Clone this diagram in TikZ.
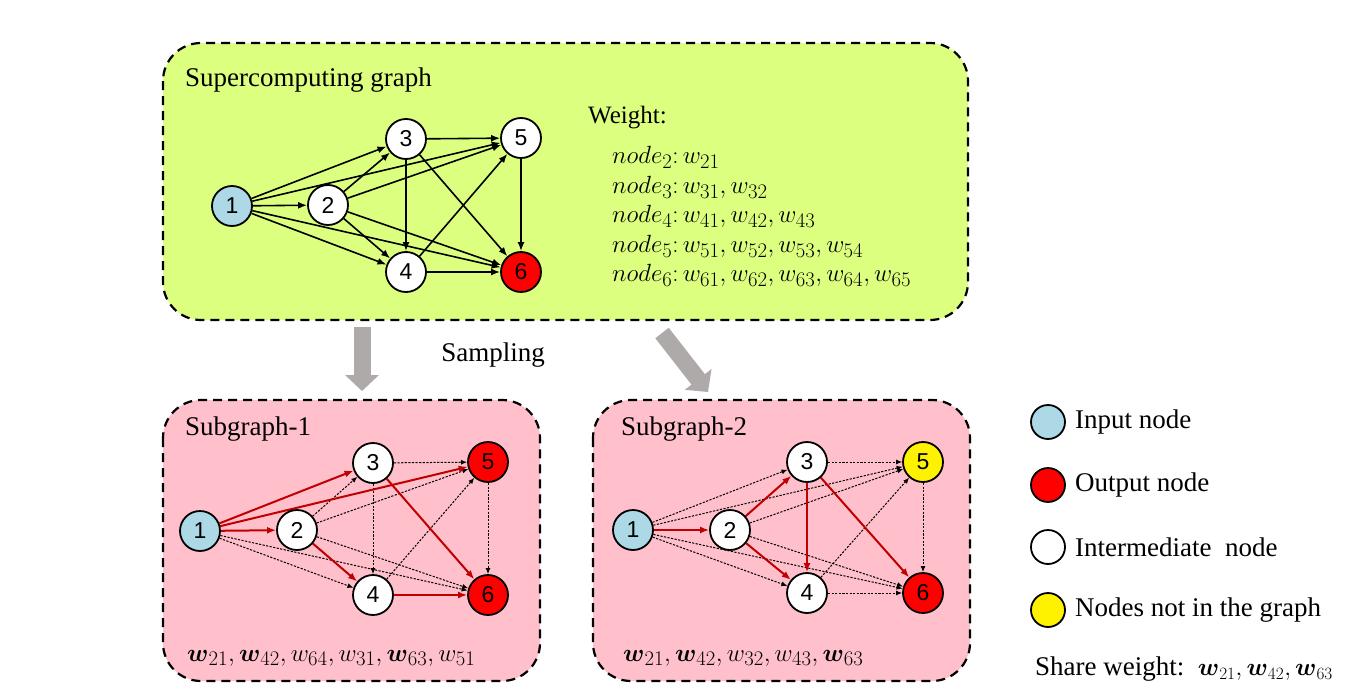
\documentclass[tikz,border=0pt]{standalone}
\usepackage{fontspec}
\usepackage{amsmath}
\setmainfont{Liberation Serif}
\newfontfamily\numfont{Liberation Sans}
\usetikzlibrary{arrows.meta}
\definecolor{boxgreen}{RGB}{221,255,128}
\definecolor{boxpink}{RGB}{255,192,203}
\definecolor{inblue}{RGB}{173,216,230}
\definecolor{darkred}{RGB}{192,0,0}
\definecolor{arrowgray}{RGB}{174,170,170}
\pgfdeclarelayer{bg}
\pgfdeclarelayer{edges}
\pgfsetlayers{bg,edges,main}
\begin{document}
\begin{tikzpicture}[x=1pt,y=-1pt,
  gnode/.style={circle,draw,line width=1.8pt,minimum size=40pt,inner sep=0pt,font=\numfont\fontsize{23}{23}\selectfont,fill=white},
  innode/.style={gnode,fill=inblue},
  outnode/.style={gnode,fill=red},
  absnode/.style={gnode,fill=yellow},
  legnode/.style={gnode,minimum size=34pt},
  bigbox/.style={draw,line width=2.2pt,dash pattern=on 9pt off 6pt,rounded corners=38pt},
  blk/.style={-{Latex[length=9pt,width=7pt]},line width=1.6pt},
  redge/.style={-{Latex[length=9pt,width=7pt]},line width=2pt,draw=darkred},
  dedge/.style={-{Latex[length=6pt,width=5pt]},line width=1pt,dash pattern=on 2.2pt off 1.4pt},
  samp/.style={line width=17pt,draw=arrowgray,-{Triangle[length=16pt,width=33pt]}},
  txt/.style={font=\fontsize{27}{30}\selectfont,inner sep=0pt},
  mtxt/.style={font=\fontsize{28}{30}\selectfont,inner sep=0pt}
]
\path[use as bounding box] (0,0) rectangle (1366,696);

% ---------- boxes ----------
\begin{pgfonlayer}{bg}
\path[bigbox,fill=boxgreen] (163,43) rectangle (968,320);
\path[bigbox,fill=boxpink] (163,400) rectangle (540,681);
\path[bigbox,fill=boxpink] (593,400) rectangle (970,681);
\end{pgfonlayer}

% ---------- supercomputing graph ----------
\node[txt,anchor=west] (ttl) at (185,80) {Supercomputing graph};
\node[innode] (t1) at (232,206) {1};
\node[gnode] (t2) at (328,205) {2};
\node[gnode] (t3) at (406,139) {3};
\node[gnode] (t5) at (521,138) {5};
\node[gnode] (t4) at (406,272) {4};
\node[outnode] (t6) at (521,272) {6};
\begin{pgfonlayer}{edges}
\foreach \a/\b in {1/2,1/3,1/4,1/5,1/6,2/3,2/4,2/5,2/6,3/4,3/5,3/6,4/5,4/6,5/6}
  \draw[blk] (t\a) -- (t\b);
\end{pgfonlayer}

\node[txt,anchor=west,font=\fontsize{25}{28}\selectfont] (wt) at (588,118) {Weight:};
\node[mtxt,anchor=west] (w2) at (612,157) {$node_2{:}\,w_{21}$};
\node[mtxt,anchor=west] (w3) at (612,187) {$node_3{:}\,w_{31}, w_{32}$};
\node[mtxt,anchor=west] (w4) at (612,216) {$node_4{:}\,w_{41}, w_{42}, w_{43}$};
\node[mtxt,anchor=west] (w5) at (612,246) {$node_5{:}\,w_{51}, w_{52}, w_{53}, w_{54}$};
\node[mtxt,anchor=west] (w6) at (612,275) {$node_6{:}\,w_{61}, w_{62}, w_{63}, w_{64}, w_{65}$};

% ---------- sampling arrows ----------
\coordinate (s1a) at (362,327);
\coordinate (s1b) at (362,391);
\coordinate (s2a) at (662,333);
\coordinate (s2b) at (708,392);
\draw[samp] (s1a) -- (s1b);
\draw[samp] (s2a) -- (s2b);
\node[txt] (smp) at (493,355) {Sampling};

% ---------- subgraph 1 ----------
\node[txt,anchor=west] (st1) at (185,429) {Subgraph-1};
\node[innode] (a1) at (200,531) {1};
\node[gnode] (a2) at (297,530) {2};
\node[gnode] (a3) at (373,463) {3};
\node[outnode] (a5) at (488,462) {5};
\node[gnode] (a4) at (373,595) {4};
\node[outnode] (a6) at (488,595) {6};
\begin{pgfonlayer}{edges}
\foreach \a/\b in {1/4,1/6,2/3,2/5,2/6,3/4,3/5,4/5,5/6}
  \draw[dedge] (a\a) -- (a\b);
\foreach \a/\b in {1/3,1/5,1/2,2/4,3/6,4/6}
  \draw[redge] (a\a) -- (a\b);
\end{pgfonlayer}
\node[mtxt,anchor=west] (sw1) at (187,658) {$\boldsymbol{w}_{21}, \boldsymbol{w}_{42}, w_{64}, w_{31}, \boldsymbol{w}_{63}, w_{51}$};

% ---------- subgraph 2 ----------
\node[txt,anchor=west] (st2) at (621,429) {Subgraph-2};
\node[innode] (b1) at (633,530) {1};
\node[gnode] (b2) at (730,530) {2};
\node[gnode] (b3) at (807,462) {3};
\node[absnode] (b5) at (923,462) {5};
\node[gnode] (b4) at (807,593) {4};
\node[outnode] (b6) at (923,593) {6};
\begin{pgfonlayer}{edges}
\foreach \a/\b in {1/3,1/4,1/5,1/6,2/5,2/6,3/5,4/5,4/6,5/6}
  \draw[dedge] (b\a) -- (b\b);
\foreach \a/\b in {1/2,2/3,2/4,3/4,3/6}
  \draw[redge] (b\a) -- (b\b);
\end{pgfonlayer}
\node[mtxt,anchor=west] (sw2) at (623,658) {$\boldsymbol{w}_{21}, \boldsymbol{w}_{42}, w_{32}, w_{43}, \boldsymbol{w}_{63}$};

% ---------- legend ----------
\node[legnode,fill=inblue] (l1) at (1048,422) {};
\node[legnode,fill=red] (l2) at (1048,485) {};
\node[legnode] (l3) at (1048,547) {};
\node[legnode,fill=yellow] (l4) at (1048,610) {};
\node[txt,anchor=west] (lt1) at (1075,422) {Input node};
\node[txt,anchor=west] (lt2) at (1075,485) {Output node};
\node[txt,anchor=west] (lt3) at (1075,547) {Intermediate\ \ node};
\node[txt,anchor=west] (lt4) at (1075,610) {Nodes not in the graph};
\node[txt,anchor=west] (lt5) at (1035,669) {Share weight:\ \ $\boldsymbol{w}_{21}, \boldsymbol{w}_{42}, \boldsymbol{w}_{63}$};
\end{tikzpicture}
\end{document}
